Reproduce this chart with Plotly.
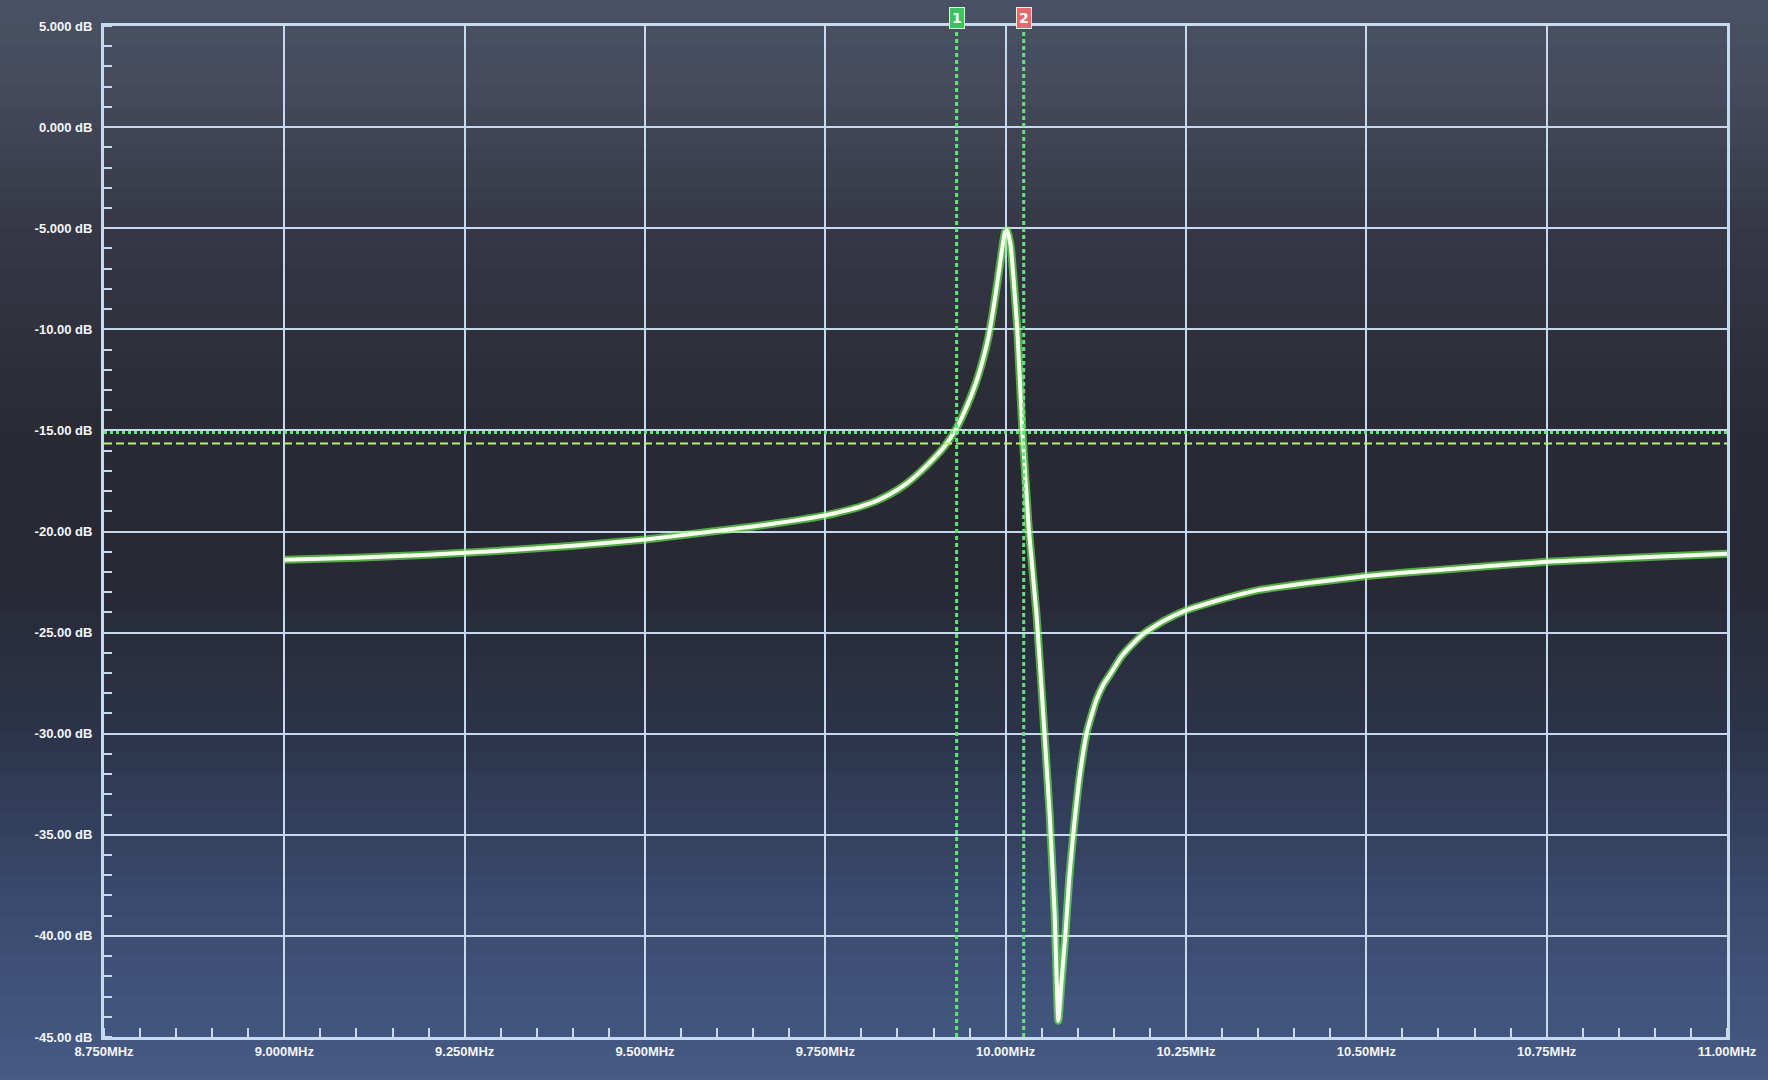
import plotly.graph_objects as go

# ---- data ----
freq_mhz = [9.00, 9.10, 9.20, 9.25, 9.30, 9.40, 9.50, 9.57, 9.65, 9.70, 9.75, 9.78,
            9.80, 9.82, 9.84, 9.86, 9.88, 9.90, 9.915, 9.93, 9.94, 9.952, 9.962,
            9.970, 9.976, 9.982, 9.988, 9.994, 9.999, 10.002, 10.007, 10.016, 10.023,
            10.032, 10.043, 10.052, 10.061, 10.068, 10.073, 10.078, 10.083, 10.088,
            10.094, 10.103, 10.113, 10.125, 10.135, 10.146, 10.160, 10.175, 10.193,
            10.22, 10.25, 10.30, 10.35, 10.42, 10.50, 10.60, 10.75, 10.90, 11.00]
level_db = [-21.4, -21.3, -21.15, -21.05, -20.95, -20.7, -20.4, -20.1, -19.75, -19.5, -19.2, -18.95,
            -18.75, -18.5, -18.15, -17.7, -17.1, -16.4, -15.8, -15.0, -14.3, -13.3, -12.3,
            -11.3, -10.4, -9.2, -7.8, -6.3, -5.2, -5.1, -5.9, -9.95, -14.9,
            -19.85, -24.2, -29.0, -34.0, -39.0, -44.2, -42.0, -39.85, -37.2,
            -34.85, -32.0, -29.85, -28.4, -27.6, -27.0, -26.2, -25.6, -25.0,
            -24.4, -23.9, -23.35, -22.9, -22.55, -22.2, -21.9, -21.5, -21.25, -21.1]

x_tick_vals = [8.75, 9.00, 9.25, 9.50, 9.75, 10.00, 10.25, 10.50, 10.75, 11.00]
x_tick_text = ["8.750MHz", "9.000MHz", "9.250MHz", "9.500MHz", "9.750MHz",
               "10.00MHz", "10.25MHz", "10.50MHz", "10.75MHz", "11.00MHz"]
y_tick_vals = [5, 0, -5, -10, -15, -20, -25, -30, -35, -40, -45]
y_tick_text = ["5.000 dB", "0.000 dB", "-5.000 dB", "-10.00 dB", "-15.00 dB", "-20.00 dB",
               "-25.00 dB", "-30.00 dB", "-35.00 dB", "-40.00 dB", "-45.00 dB"]

marker_labels = ["1", "2"]
marker_freqs = [9.932, 10.025]
marker_colors = ["#3cc45c", "#e8676c"]
marker_levels = [-15.1, -15.65]

# ---- styling ----
GRID = "#c6d9ef"
FONT = dict(family="Liberation Sans Narrow, Liberation Sans, Arial, sans-serif",
            size=13, color="#f4f6fa", weight="bold")

fig = go.Figure()

# glow + core of the trace
fig.add_trace(go.Scatter(x=freq_mhz, y=level_db, mode="lines",
                         line=dict(color="rgba(110,255,80,0.6)", width=8, shape="spline", smoothing=0.4),
                         hoverinfo="skip", showlegend=False))
fig.add_trace(go.Scatter(x=freq_mhz, y=level_db, mode="lines",
                         line=dict(color="#f6ffec", width=4, shape="spline", smoothing=0.4),
                         showlegend=False))

shapes = []
# vertical gradient background (photographed screen)
stops = [(1.10, (78, 86, 106)), (0.95, (70, 76, 94)), (0.80, (54, 56, 70)),
         (0.60, (42, 42, 52)), (0.45, (40, 41, 53)), (0.30, (44, 52, 74)),
         (0.15, (56, 72, 106)), (-0.10, (74, 96, 140))]
n_bands = 60
top, bot = 1.10, -0.10
for i in range(n_bands):
    y1 = top - (top - bot) * i / n_bands
    y0 = top - (top - bot) * (i + 1) / n_bands
    yc = (y0 + y1) / 2
    for k in range(len(stops) - 1):
        ya, ca = stops[k]
        yb, cb = stops[k + 1]
        if ya >= yc >= yb:
            t = (ya - yc) / (ya - yb)
            c = tuple(int(round(ca[j] + (cb[j] - ca[j]) * t)) for j in range(3))
            break
    shapes.append(dict(type="rect", xref="paper", yref="paper", x0=-0.1, x1=1.1,
                       y0=y0, y1=y1 + 0.001, fillcolor="rgb(%d,%d,%d)" % c,
                       line=dict(width=0), layer="below"))

# marker lines
for f in marker_freqs:
    shapes.append(dict(type="line", xref="x", yref="paper", x0=f, x1=f, y0=0, y1=1,
                       line=dict(color="#62e47a", width=3, dash="4px,3px"), layer="above"))
shapes.append(dict(type="line", xref="paper", yref="y", x0=0, x1=1,
                   y0=marker_levels[0], y1=marker_levels[0],
                   line=dict(color="#62e47a", width=3, dash="3px,3px"), layer="above"))
shapes.append(dict(type="line", xref="paper", yref="y", x0=0, x1=1,
                   y0=marker_levels[1], y1=marker_levels[1],
                   line=dict(color="#b4f07a", width=2, dash="8px,4px"), layer="above"))

annotations = []
for lab, f, col in zip(marker_labels, marker_freqs, marker_colors):
    annotations.append(dict(text="<b>%s</b>" % lab, x=f, xref="x", y=1, yref="paper",
                            yanchor="bottom", yshift=-3, showarrow=False,
                            bgcolor=col, bordercolor="#d8f8dc", borderwidth=1, borderpad=2,
                            font=dict(family="DejaVu Sans", size=14, color="white")))

fig.update_layout(
    width=1768, height=1080,
    margin=dict(l=104, r=41, t=26, b=43),
    paper_bgcolor="#3c4358",
    plot_bgcolor="rgba(0,0,0,0)",
    shapes=shapes,
    annotations=annotations,
    font=FONT,
    showlegend=False,
)
fig.update_xaxes(range=[8.75, 11.0], tickvals=x_tick_vals, ticktext=x_tick_text,
                 showgrid=True, gridcolor=GRID, gridwidth=2,
                 showline=True, linecolor=GRID, linewidth=3, mirror=True,
                 ticks="", zeroline=False, tickfont=FONT,
                 minor=dict(ticks="inside", dtick=0.05, tick0=8.75, ticklen=9,
                            tickwidth=2, tickcolor=GRID, showgrid=False))
fig.update_yaxes(range=[-45, 5], tickvals=y_tick_vals, ticktext=y_tick_text,
                 showgrid=True, gridcolor=GRID, gridwidth=2,
                 showline=True, linecolor=GRID, linewidth=3, mirror=True,
                 ticks="", zeroline=False, tickfont=FONT, ticklabelstandoff=6,
                 minor=dict(ticks="inside", dtick=1, tick0=0, ticklen=8,
                            tickwidth=2, tickcolor=GRID, showgrid=False))

fig.write_html("out.html", config={"displayModeBar": False},
               post_script="document.body.style.margin='0';")
